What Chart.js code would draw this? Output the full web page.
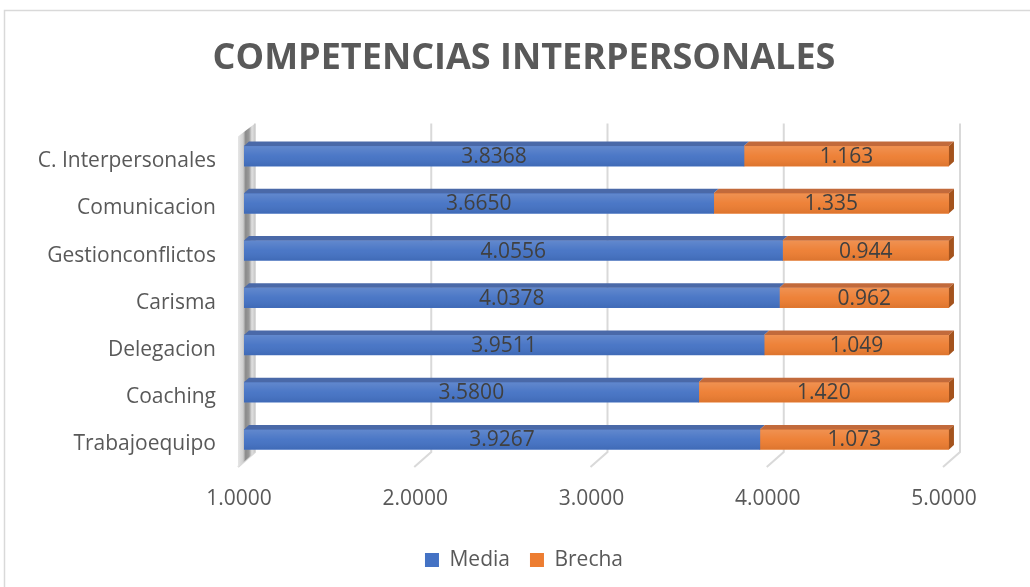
<!DOCTYPE html>
<html>
<head>
<meta charset="utf-8">
<script src="https://cdn.jsdelivr.net/npm/chart.js@4.4.1/dist/chart.umd.min.js"></script>
<style>
html,body{margin:0;padding:0;background:#fff;overflow:hidden}
#wrap{position:relative;width:1030px;height:587px}
</style>
</head>
<body>
<div id="wrap"><canvas id="c" width="1030" height="587"></canvas></div>
<script>
// ---- data ----
const titleText = 'COMPETENCIAS INTERPERSONALES';
const categories = ['C. Interpersonales','Comunicacion','Gestionconflictos','Carisma','Delegacion','Coaching','Trabajoequipo'];
const media  = [3.8368, 3.6650, 4.0556, 4.0378, 3.9511, 3.5800, 3.9267];
const brecha = [1.163, 1.335, 0.944, 0.962, 1.049, 1.420, 1.073];
const seriesNames = ['Media','Brecha'];
const xTickValues = [1, 2, 3, 4, 5];
const seriesDecimals = [4, 3];

// ---- styling ----
const FONT = '"Open Sans", "DejaVu Sans", sans-serif';
const COLORS = ['#4472C4', '#ED7D31'];
const TOP_COLORS = ['#4a69a8', '#c26a3b'];
const SIDE_COLORS = ['#2f5597', '#a4531d'];
const DX = 5, DY = 4.5;

const threeD = {
  id: 'threeD',
  beforeDraw(chart) {
    const ctx = chart.ctx;
    ctx.save();
    ctx.fillStyle = '#ffffff';
    ctx.fillRect(0, 0, chart.width, chart.height);
    ctx.strokeStyle = '#d9d9d9';
    ctx.lineWidth = 1.5;
    ctx.strokeRect(4.5, 10.5, chart.width + 20, chart.height + 20);
    ctx.restore();
  },
  beforeDatasetsDraw(chart) {
    const ctx = chart.ctx, ca = chart.chartArea, xs = chart.scales.x;
    ctx.save();
    // back gridlines with floor diagonals
    ctx.strokeStyle = '#d9d9d9';
    ctx.lineWidth = 2;
    xTickValues.forEach(v => {
      const bx = xs.getPixelForValue(v) + 11;
      ctx.beginPath();
      ctx.moveTo(bx, ca.top - 9);
      ctx.lineTo(bx, ca.bottom - 11);
      ctx.lineTo(bx - 17, ca.bottom + 4);
      ctx.stroke();
    });
    // left wall
    const l = ca.left;
    const g = ctx.createLinearGradient(l - 6, 0, l + 11, 0);
    g.addColorStop(0, '#e6e6e6');
    g.addColorStop(0.3, '#cfcfcf');
    g.addColorStop(0.45, '#8a8a8a');
    g.addColorStop(0.65, '#9a9a9a');
    g.addColorStop(0.82, '#e0e0e0');
    g.addColorStop(1, '#c8c8c8');
    ctx.fillStyle = g;
    ctx.beginPath();
    ctx.moveTo(l - 6, ca.top + 4);
    ctx.lineTo(l + 11, ca.top - 9);
    ctx.lineTo(l + 11, ca.bottom - 11);
    ctx.lineTo(l - 6, ca.bottom + 4);
    ctx.closePath();
    ctx.fill();
    ctx.restore();
  },
  afterDatasetsDraw(chart) {
    const ctx = chart.ctx, ca = chart.chartArea;
    ctx.save();
    const nSets = chart.data.datasets.length;
    chart.data.datasets.forEach((ds, di) => {
      const meta = chart.getDatasetMeta(di);
      meta.data.forEach((el, i) => {
        const x0 = Math.max(Math.min(el.base, el.x), ca.left);
        const x1 = Math.min(Math.max(el.base, el.x), ca.right);
        if (x1 <= x0) return;
        const top = el.y - el.height / 2, bot = el.y + el.height / 2;
        // front shading
        const g = ctx.createLinearGradient(0, top, 0, bot);
        g.addColorStop(0, 'rgba(255,255,255,0.16)');
        g.addColorStop(0.5, 'rgba(255,255,255,0.04)');
        g.addColorStop(1, 'rgba(0,0,0,0.07)');
        ctx.fillStyle = g;
        ctx.fillRect(x0, top, x1 - x0, bot - top);
        // top face
        ctx.fillStyle = TOP_COLORS[di];
        ctx.beginPath();
        ctx.moveTo(x0, top);
        ctx.lineTo(x1, top);
        ctx.lineTo(x1 + DX, top - DY);
        ctx.lineTo(x0 + DX, top - DY);
        ctx.closePath();
        ctx.fill();
        // side face on outer segment
        if (di === nSets - 1) {
          ctx.fillStyle = SIDE_COLORS[di];
          ctx.beginPath();
          ctx.moveTo(x1, top);
          ctx.lineTo(x1 + DX, top - DY);
          ctx.lineTo(x1 + DX, bot - DY);
          ctx.lineTo(x1, bot);
          ctx.closePath();
          ctx.fill();
        }
        // value label
        ctx.fillStyle = '#404040';
        ctx.font = '21px ' + FONT;
        ctx.textAlign = 'center';
        ctx.textBaseline = 'middle';
        ctx.fillText(ds.data[i].toFixed(seriesDecimals[di]), (x0 + x1) / 2, el.y + 1);
      });
    });
    ctx.restore();
  }
};

new Chart(document.getElementById('c'), {
  type: 'bar',
  data: {
    labels: categories,
    datasets: [
      { label: seriesNames[0], data: media, backgroundColor: COLORS[0], borderWidth: 0, barThickness: 20 },
      { label: seriesNames[1], data: brecha, backgroundColor: COLORS[1], borderWidth: 0, barThickness: 20 }
    ]
  },
  options: {
    indexAxis: 'y',
    responsive: false,
    animation: false,
    devicePixelRatio: 1,
    layout: { padding: { left: 18, right: 0, top: 0, bottom: 6.5 } },
    scales: {
      x: {
        stacked: true,
        min: 1, max: 5,
        grid: { display: false, drawTicks: false },
        border: { display: false },
        ticks: {
          stepSize: 1,
          padding: 23,
          labelOffset: -5,
          color: '#595959',
          font: { family: FONT, size: 21 },
          callback: v => Number(v).toFixed(4)
        },
        afterFit: s => { s.height = 66.5; }
      },
      y: {
        stacked: true,
        grid: { display: false, drawTicks: false },
        border: { display: false },
        ticks: {
          padding: 28,
          labelOffset: 5,
          color: '#595959',
          font: { family: FONT, size: 21 }
        },
        afterFit: s => { s.width = 226; }
      },
      yRight: {
        type: 'linear',
        position: 'right',
        display: true,
        grid: { display: false, drawTicks: false },
        border: { display: false },
        ticks: { display: false },
        afterFit: s => { s.width = 81; }
      }
    },
    plugins: {
      title: {
        display: true,
        text: titleText,
        color: '#595959',
        font: { family: FONT, size: 36, weight: 'bold', lineHeight: 1.2 },
        padding: { top: 37, bottom: 52.3 }
      },
      legend: {
        position: 'bottom',
        labels: {
          boxWidth: 14, boxHeight: 14,
          padding: 20,
          color: '#595959',
          font: { family: FONT, size: 21 }
        }
      },
      tooltip: { enabled: false }
    }
  },
  plugins: [threeD]
});
</script>
</body>
</html>
